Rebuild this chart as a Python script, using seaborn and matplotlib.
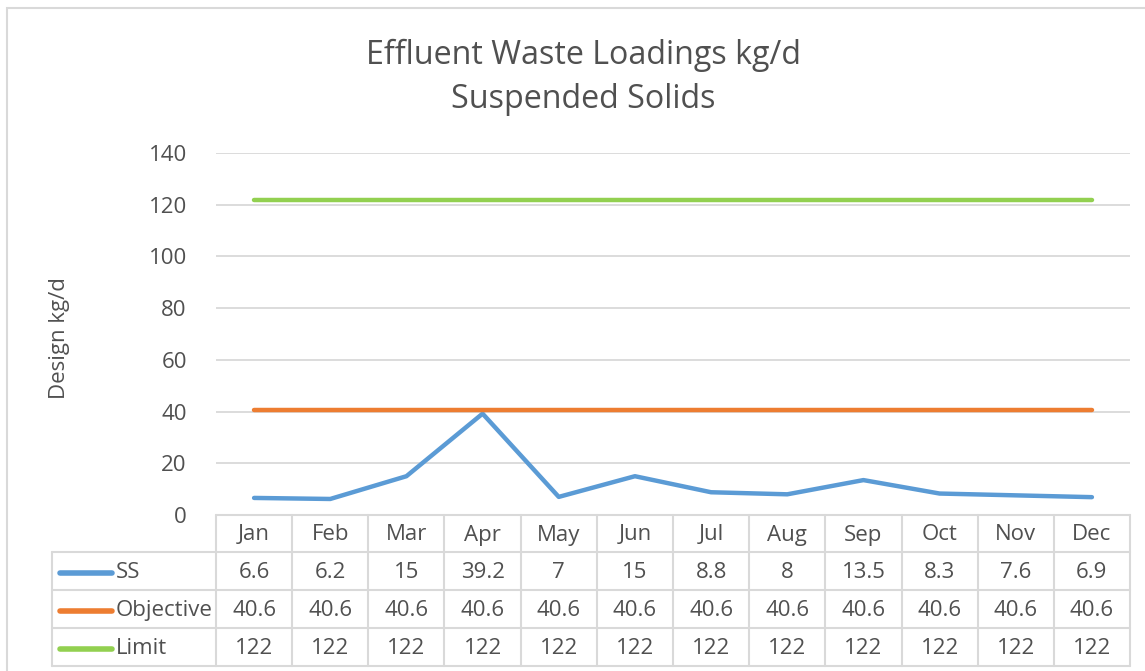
import matplotlib
matplotlib.use("Agg")
import matplotlib.pyplot as plt
import matplotlib.transforms as mtransforms
from matplotlib.patches import Rectangle
from matplotlib.lines import Line2D
import seaborn as sns
import pandas as pd

months = ["Jan", "Feb", "Mar", "Apr", "May", "Jun", "Jul", "Aug", "Sep", "Oct", "Nov", "Dec"]
ss = [6.6, 6.2, 15, 39.2, 7, 15, 8.8, 8, 13.5, 8.3, 7.6, 6.9]
objective = [40.6] * 12
limit = [122] * 12
series_names = ["SS", "Objective", "Limit"]
series_values = [ss, objective, limit]
colors = ["#5B9BD5", "#ED7D31", "#92D050"]
yticks = [0, 20, 40, 60, 80, 100, 120, 140]

sns.set_theme(style="white")
plt.rcParams['font.family'] = ['Open Sans', 'DejaVu Sans']
TXT = "#505050"
GRID = "#D9D9D9"
FS = 16

W, H = 1145, 671
fig = plt.figure(figsize=(W / 100, H / 100), dpi=100)

# chart border
fig.patches.append(Rectangle((7 / W, -0.1), 1.2, (H - 8) / H + 0.1, transform=fig.transFigure,
                             fill=False, edgecolor=GRID, linewidth=1.5, zorder=0))

L, R, T, B = 216, 1130, 153, 515
ax = fig.add_axes([L / W, 1 - B / H, (R - L) / W, (B - T) / H])

df = pd.DataFrame({"x": list(range(12)) * 3,
                   "value": ss + objective + limit,
                   "series": [n for n in series_names for _ in range(12)]})
sns.lineplot(data=df, x="x", y="value", hue="series", palette=dict(zip(series_names, colors)),
             linewidth=3.2, ax=ax, legend=False, solid_capstyle="round", zorder=3)

ax.set_xlim(-0.5, 11.5)
ax.set_ylim(0, 140)
ax.set_yticks(yticks)
ax.set_yticklabels([str(v) for v in yticks], fontsize=FS, color=TXT)
ax.set_xticks([])
ax.set_xlabel("")
ax.set_ylabel("")
ax.tick_params(axis="y", length=0, pad=21)
ax.grid(axis="y", color=GRID, linewidth=1.3)
for s in ax.spines.values():
    s.set_visible(False)

fig.text(60 / W, 1 - 338 / H, "Design kg/d", rotation=90, ha="center", va="center",
         fontsize=FS, color=TXT)
fig.text(583 / W, 1 - 55 / H, "Effluent Waste Loadings kg/d", ha="center", va="center",
         fontsize=23.2, color=TXT)
fig.text(583 / W, 1 - 100 / H, "Suspended Solids", ha="center", va="center",
         fontsize=23.2, color=TXT)

# data table below axes: x in data coords, y in figure pixels
trans = mtransforms.blended_transform_factory(ax.transData, fig.transFigure)
def fy(p):
    return 1 - p / H

row_edges = [515, 552, 590, 628, 666]
lw = 1.5
for i in range(13):
    x = i - 0.5
    fig.add_artist(Line2D([x, x], [fy(row_edges[0]), fy(row_edges[-1])], transform=trans, color=GRID, lw=lw))
for k, yp in enumerate(row_edges):
    fig.add_artist(Line2D([-0.5, 11.5], [fy(yp), fy(yp)], transform=trans, color=GRID, lw=lw))
    if k >= 1:
        fig.add_artist(Line2D([52 / W, L / W], [fy(yp), fy(yp)], transform=fig.transFigure, color=GRID, lw=lw))
fig.add_artist(Line2D([52 / W, 52 / W], [fy(row_edges[1]), fy(row_edges[-1])], transform=fig.transFigure, color=GRID, lw=lw))

for i, m in enumerate(months):
    fig.text(i, fy((row_edges[0] + row_edges[1]) / 2 + 1.5), m, transform=trans, ha="center", va="center",
             fontsize=FS, color=TXT)
for r, (name, vals, c) in enumerate(zip(series_names, series_values, colors)):
    yc = fy((row_edges[r + 1] + row_edges[r + 2]) / 2 + 1.5)
    fig.add_artist(Line2D([60 / W, 112 / W], [yc, yc], transform=fig.transFigure, color=c, lw=4,
                          solid_capstyle="round"))
    fig.text(116 / W, yc, name, ha="left", va="center", fontsize=FS, color=TXT)
    for i, v in enumerate(vals):
        fig.text(i, yc, f"{v:g}", transform=trans, ha="center", va="center", fontsize=FS, color=TXT)

fig.savefig("out.png", dpi=100)
